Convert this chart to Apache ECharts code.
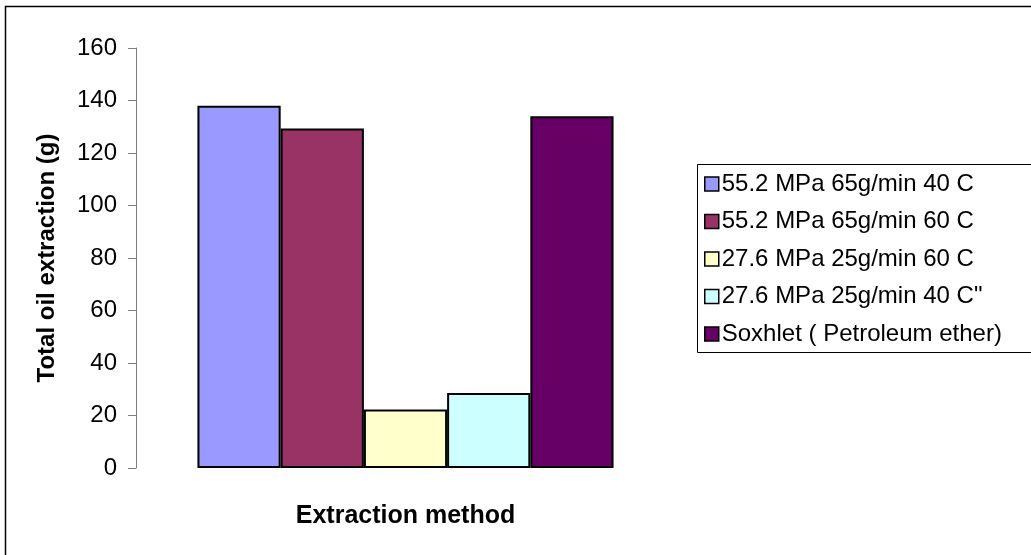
<!DOCTYPE html>
<html>
<head>
<meta charset="utf-8">
<script src="https://cdn.jsdelivr.net/npm/echarts@6/dist/echarts.min.js"></script>
<style>
html,body{margin:0;padding:0;background:#fff;}
#c{width:1031px;height:555px;}
</style>
</head>
<body>
<div id="c"></div>
<script>
var seriesNames = ['55.2 MPa 65g/min 40 C', '55.2 MPa 65g/min 60 C', '27.6 MPa 25g/min 60 C', '27.6 MPa 25g/min 40 C"', 'Soxhlet ( Petroleum ether)'];
var seriesValues = [138, 129.3, 22.3, 28.6, 134];
var seriesColors = ['#9999FF', '#993366', '#FFFFCC', '#CCFFFF', '#660066'];
var categories = [''];
var yTicks = [0, 20, 40, 60, 80, 100, 120, 140, 160];

var FONT = '"Liberation Sans", Arial, sans-serif';
var chart = echarts.init(document.getElementById('c'), null, {renderer: 'canvas'});
var series = seriesNames.map(function (n, i) {
  return {
    name: n,
    type: 'bar',
    data: [seriesValues[i]],
    barGap: '0%',
    barCategoryGap: '22.8%',
    itemStyle: {color: seriesColors[i], borderColor: '#000', borderWidth: 2},
    emphasis: {disabled: true},
    animation: false
  };
});
chart.setOption({
  animation: false,
  backgroundColor: '#fff',
  grid: {left: 136, top: 48, right: 356, bottom: 87, containLabel: false},
  xAxis: {
    type: 'category',
    data: categories,
    axisLine: {show: false},
    axisTick: {show: false},
    axisLabel: {show: false},
    name: 'Extraction method',
    nameLocation: 'middle',
    nameGap: 36,
    nameTextStyle: {fontFamily: FONT, fontSize: 25, fontWeight: 'bold', color: '#000'}
  },
  yAxis: {
    type: 'value',
    min: yTicks[0],
    max: yTicks[yTicks.length - 1],
    interval: 20,
    axisLine: {show: true, lineStyle: {color: '#808080', width: 1}},
    axisTick: {show: true, length: 8, inside: false, lineStyle: {color: '#808080'}},
    splitLine: {show: false},
    axisLabel: {fontFamily: FONT, fontSize: 24, color: '#000', margin: 19},
    name: 'Total oil extraction (g)',
    nameLocation: 'middle',
    nameGap: 77,
    nameTextStyle: {fontFamily: FONT, fontSize: 24, fontWeight: 'bold', color: '#000'}
  },
  legend: {
    orient: 'vertical',
    left: 697,
    top: 164,
    padding: [8, 10, 7, 7],
    itemGap: 13.5,
    itemWidth: 14,
    itemHeight: 14,
    icon: 'rect',
    itemStyle: {borderColor: '#000', borderWidth: 1.5},
    textStyle: {fontFamily: FONT, fontSize: 24, color: '#000', lineHeight: 24, padding: [0, 0, 0, -2]},
    data: seriesNames
  },
  graphic: [{
    type: 'polyline',
    shape: {points: [[5.5, 600], [5.5, 6.5], [1100, 6.5]]},
    style: {fill: null, stroke: '#000', lineWidth: 1.5},
    silent: true
  }, {
    type: 'polyline',
    shape: {points: [[1100, 164.5], [697.5, 164.5], [697.5, 352.5], [1100, 352.5]]},
    style: {fill: null, stroke: '#000', lineWidth: 1},
    silent: true
  }],
  series: series
});
</script>
</body>
</html>
